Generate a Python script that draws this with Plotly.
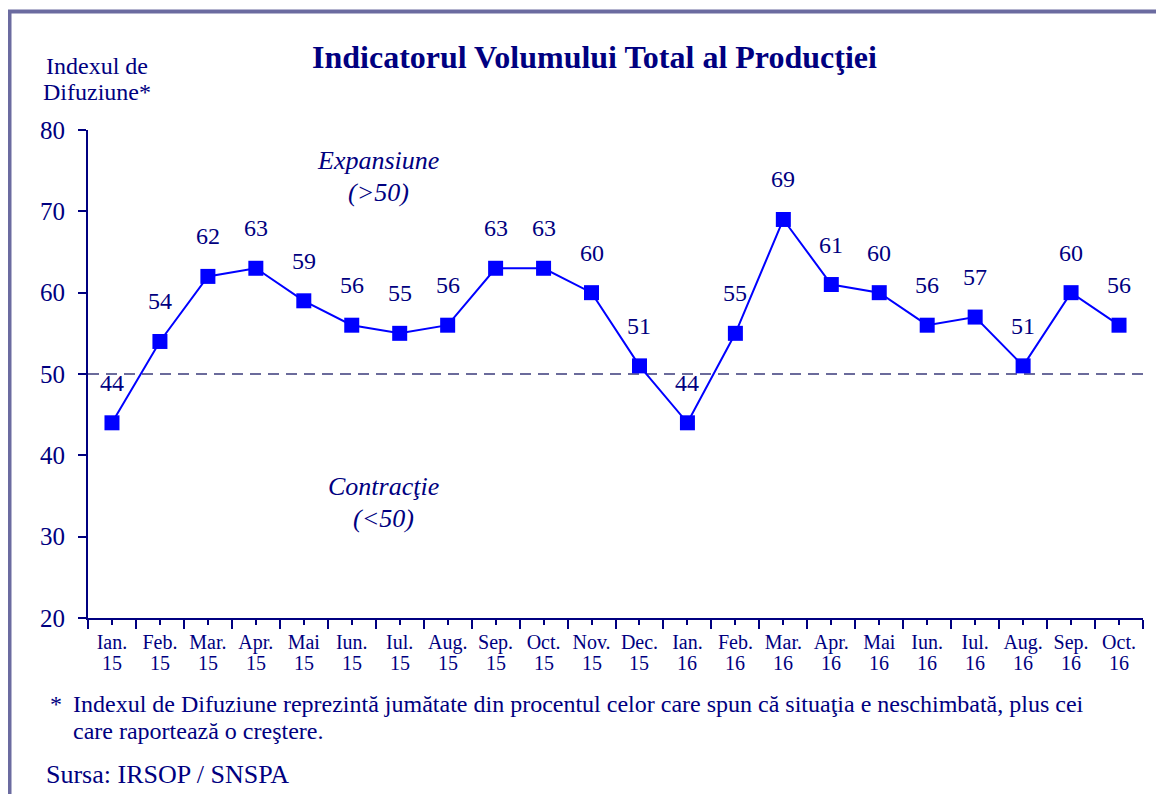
import plotly.graph_objects as go

months = ["Ian.", "Feb.", "Mar.", "Apr.", "Mai", "Iun.", "Iul.", "Aug.", "Sep.", "Oct.", "Nov.", "Dec.",
          "Ian.", "Feb.", "Mar.", "Apr.", "Mai", "Iun.", "Iul.", "Aug.", "Sep.", "Oct."]
years = ["15"] * 12 + ["16"] * 10
values = [44, 54, 62, 63, 59, 56, 55, 56, 63, 63, 60, 51, 44, 55, 69, 61, 60, 56, 57, 51, 60, 56]
threshold = 50
y_ticks = [20, 30, 40, 50, 60, 70, 80]

# page has an 8px body margin: the figure starts at screen (8, 8)
OFF = 8
W, H = 1164 - OFF, 794 - OFF
# plot area in screen pixels: x 88..1143, y 130..618
L, T = 88 - OFF, 130 - OFF
R = W - (1143 - OFF)
B = H - (618 - OFF)
PW, PH = W - L - R, H - T - B


def px(x):
    return (x - OFF - L) / PW


def py(y):
    return (H - B - (y - OFF)) / PH


NAVY = "#000080"
FONT = "Liberation Serif"
BORDER = "#6b6ba0"

xs = list(range(len(values)))

fig = go.Figure()
fig.add_trace(go.Scatter(
    x=xs, y=values, mode="lines+markers",
    line=dict(color="#0000ff", width=2),
    marker=dict(symbol="square", size=15, color="#0000ff"),
    hoverinfo="skip", showlegend=False,
))

ann = []
for x, v in zip(xs, values):
    ann.append(dict(x=x, y=v, xref="x", yref="y", text=str(v), showarrow=False,
                    xanchor="center", yshift=40, font=dict(size=24, color=NAVY, family=FONT)))
for x, yr in zip(xs, years):
    ann.append(dict(x=x, y=py(663), xref="x", yref="paper", text=yr, showarrow=False,
                    xanchor="center", yanchor="middle", font=dict(size=20, color=NAVY, family=FONT)))


def txt(x, y, text, size=24, **kw):
    d = dict(x=px(x), y=py(y), xref="paper", yref="paper", text=text, showarrow=False,
             xanchor="center", yanchor="middle", font=dict(size=size, color=NAVY, family=FONT))
    d.update(kw)
    ann.append(d)


txt(594, 57, "<b>Indicatorul Volumului Total al Producţiei</b>", size=32)
txt(97, 66, "Indexul de", size=24)
txt(97, 92, "Difuziune*", size=24)
txt(378, 160, "<i>Expansiune</i>", size=26)
txt(378, 192, "<i>(>50)</i>", size=26)
txt(383, 486, "<i>Contracţie</i>", size=26)
txt(383, 518, "<i>(<50)</i>", size=26)
txt(48, 704, "*", size=24, xanchor="left")
txt(71, 704, "Indexul de Difuziune reprezintă jumătate din procentul celor care spun că situaţia e neschimbată, plus cei",
    size=24, xanchor="left")
txt(71, 731, "care raportează o creştere.", size=24, xanchor="left")
txt(44, 774, "Sursa: IRSOP / SNSPA", size=26, xanchor="left")

fig.update_layout(
    width=W, height=H,
    margin=dict(l=L, r=R, t=T, b=B),
    paper_bgcolor="white", plot_bgcolor="white",
    font=dict(family=FONT, color=NAVY),
    annotations=ann,
    shapes=[
        dict(type="rect", xref="paper", yref="paper",
             x0=px(9.5), x1=px(1250), y0=py(900), y1=py(11.5),
             line=dict(color=BORDER, width=4), layer="below"),
        dict(type="line", xref="paper", yref="y", x0=0, x1=1, y0=threshold, y1=threshold,
             line=dict(color="#6b6b9b", width=2, dash="11px,7px"), layer="below"),
    ],
    xaxis=dict(
        range=[-0.5, len(values) - 0.5],
        tickmode="array", tickvals=xs, ticktext=months,
        ticks="outside", ticklen=5, tickwidth=2, tickcolor=NAVY,
        minor=dict(tickmode="array", tickvals=[i - 0.5 for i in range(len(values) + 1)],
                   ticks="outside", ticklen=9, tickwidth=2, tickcolor=NAVY),
        showline=True, linecolor=NAVY, linewidth=2,
        showgrid=False, zeroline=False,
        tickfont=dict(size=20, color=NAVY, family=FONT),
    ),
    yaxis=dict(
        range=[y_ticks[0], y_ticks[-1]], tickmode="array", tickvals=y_ticks,
        ticks="outside", ticklen=8, tickwidth=2, tickcolor=NAVY,
        showline=True, linecolor=NAVY, linewidth=2,
        showgrid=False, zeroline=False,
        tickfont=dict(size=25, color=NAVY, family=FONT),
        ticklabelstandoff=8,
    ),
)

fig.write_html("out.html")
